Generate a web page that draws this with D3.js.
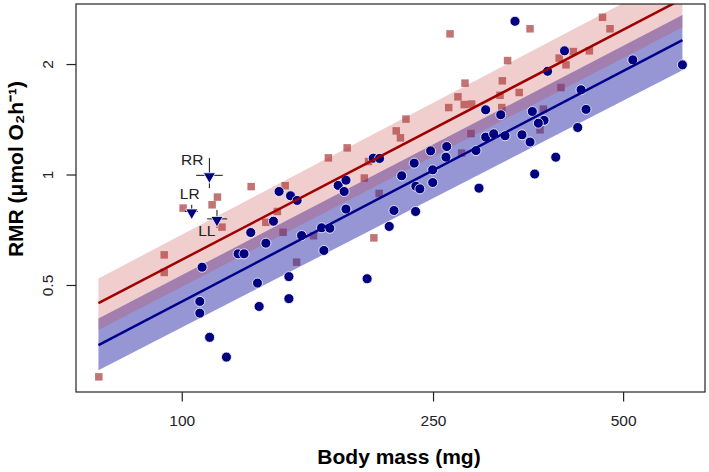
<!DOCTYPE html>
<html>
<head>
<meta charset="utf-8">
<script src="https://cdn.jsdelivr.net/npm/d3@7"></script>
<style>
body { margin: 0; background: #fff; }
svg { display: block; font-family: "Liberation Sans", Arial, Helvetica, sans-serif; }
</style>
</head>
<body>
<div id="chart"></div>
<script>
// blue group (circles)
const circleMass = [117.7, 110.7, 106.8, 106.8, 107.7, 122.8, 125.5, 128.6, 131.8, 135.9,
  132.6, 147.8, 147.8, 167.9, 196.6, 139.7, 142.6, 148.7, 152.3, 154.8,
  166.5, 171.6, 182.0, 176.9, 182.0, 180.8, 201.0, 205.7, 213.1, 216.8,
  223.0, 234.6, 233.4, 234.8, 238.3, 247.8, 249.7, 249.7, 262.8, 262.1,
  292.4, 295.6, 302.9, 320.0, 302.9, 311.9, 325.1, 345.8, 356.1, 359.1,
  374.8, 367.1, 362.2, 337.1, 379.6, 403.8, 391.1, 423.7, 428.9, 436.8,
  518.0, 620.7]
const circleRMR = [0.318, 0.360, 0.419, 0.451, 0.559, 0.608, 0.608, 0.695, 0.506, 0.650,
  0.437, 0.527, 0.459, 0.621, 0.520, 0.746, 0.899, 0.875, 0.850, 0.682,
  0.716, 0.714, 0.805, 0.934, 0.965, 0.899, 1.108, 1.106, 0.722, 0.798,
  0.992, 0.793, 1.074, 0.929, 0.914, 1.160, 1.030, 0.951, 1.192, 1.115,
  1.162, 0.918, 1.501, 1.455, 1.264, 1.291, 1.275, 1.283, 1.226, 1.485,
  1.405, 1.380, 1.003, 2.615, 1.911, 2.173, 1.115, 1.343, 1.702, 1.505,
  2.053, 1.990]

// red group (squares)
const squareMass = [73.9, 93.8, 93.8, 100.5, 111.7, 113.9, 115.8, 128.8, 145.8, 141.7,
  135.9, 144.7, 161.7, 152.0, 201.5, 170.7, 182.8, 197.6, 194.6, 205.4,
  218.6, 222.0, 226.5, 266.0, 280.9, 273.8, 264.7, 280.1, 287.8, 287.1,
  277.5, 356.1, 328.1, 321.9, 319.2, 342.3, 321.2, 373.8, 369.3, 396.0,
  406.0, 417.0, 442.1, 398.6, 463.8, 476.7]
const squareRMR = [0.281, 0.604, 0.541, 0.810, 0.827, 0.868, 0.719, 0.927, 0.932, 0.793,
  0.741, 0.696, 0.681, 0.577, 0.672, 1.110, 1.182, 1.085, 0.978, 0.888,
  1.315, 1.259, 1.416, 2.417, 1.774, 1.628, 1.522, 1.551, 1.556, 1.293,
  1.144, 2.495, 2.044, 1.800, 1.644, 1.673, 1.522, 1.507, 1.324, 2.076,
  1.990, 2.163, 2.173, 1.726, 2.682, 2.495]

// labelled individuals with error bars
const specialNames = ['RR', 'LR', 'LL']
const specialMass = [110.6, 103.7, 113.7]
const specialRMR = [0.995, 0.793, 0.757]
const specialMassLo = [105.4, 101.2, 109.7]
const specialMassHi = [116.1, 106.0, 118.0]
const specialRMRLo = [0.918, 0.761, 0.716]
const specialRMRHi = [1.110, 0.827, 0.801]

// fitted lines and bands at the two ends of the mass range
const fitMass = [73.8, 620.7]
const redFit = [0.446, 3.01]
const redLo = [0.377, 2.52]
const redHi = [0.521, 3.562]
const blueFit = [0.343, 2.324]
const blueLo = [0.293, 1.925]
const blueHi = [0.4055, 2.72]

const xTicks = [100, 250, 500]
const yTicks = [0.5, 1, 2]

const w = 709
const h = 472
const margin = { top: 4, right: 4, bottom: 80, left: 76 }
const innerWidth = w - margin.left - margin.right
const innerHeight = h - margin.top - margin.bottom

const svg = d3.select('#chart')
  .append('svg')
  .attr('width', w)
  .attr('height', h)

const xScale = d3.scaleLog()
  .domain([68, 674])
  .range([margin.left, margin.left + innerWidth])

const yScale = d3.scaleLog()
  .domain([0.2555, 2.915])
  .range([margin.top + innerHeight, margin.top])

svg.append('clipPath')
  .attr('id', 'plotclip')
  .append('rect')
  .attr('x', margin.left)
  .attr('y', margin.top)
  .attr('width', innerWidth)
  .attr('height', innerHeight)

const plot = svg.append('g').attr('clip-path', 'url(#plotclip)')

const squareSize = 7.5
plot.selectAll('rect.sq')
  .data(squareMass)
  .enter()
  .append('rect')
  .attr('class', 'sq')
  .attr('x', (d, i) => xScale(d) - squareSize / 2)
  .attr('y', (d, i) => yScale(squareRMR[i]) - squareSize / 2)
  .attr('width', squareSize)
  .attr('height', squareSize)
  .attr('fill', '#c27474')

const band = (lo, hi) => d3.area()
  .x((d, i) => xScale(fitMass[i]))
  .y0((d, i) => yScale(lo[i]))
  .y1((d, i) => yScale(hi[i]))

plot.append('path')
  .attr('d', band(blueLo, blueHi)(fitMass))
  .attr('fill', 'rgb(45,45,170)')
  .attr('fill-opacity', 0.5)

plot.append('path')
  .attr('d', band(redLo, redHi)(fitMass))
  .attr('fill', 'rgb(200,60,60)')
  .attr('fill-opacity', 0.25)

plot.selectAll('circle.pt')
  .data(circleMass)
  .enter()
  .append('circle')
  .attr('class', 'pt')
  .attr('cx', d => xScale(d))
  .attr('cy', (d, i) => yScale(circleRMR[i]))
  .attr('r', 5)
  .attr('fill', '#000080')
  .attr('stroke', '#fff')
  .attr('stroke-width', 0.8)

const fitLine = vals => d3.line()
  .x((d, i) => xScale(fitMass[i]))
  .y((d, i) => yScale(vals[i]))

plot.append('path')
  .attr('d', fitLine(redFit)(fitMass))
  .attr('stroke', '#a00000')
  .attr('stroke-width', 2.5)
  .attr('fill', 'none')

plot.append('path')
  .attr('d', fitLine(blueFit)(fitMass))
  .attr('stroke', '#00008b')
  .attr('stroke-width', 2.5)
  .attr('fill', 'none')

// error bars and triangles for the labelled individuals
const special = svg.selectAll('g.special')
  .data(specialNames)
  .enter()
  .append('g')
  .attr('class', 'special')

special.append('line')
  .attr('x1', (d, i) => xScale(specialMass[i]))
  .attr('x2', (d, i) => xScale(specialMass[i]))
  .attr('y1', (d, i) => yScale(specialRMRLo[i]))
  .attr('y2', (d, i) => yScale(specialRMRHi[i]))
  .attr('stroke', '#111')
  .attr('stroke-width', 1)

special.append('line')
  .attr('x1', (d, i) => xScale(specialMassLo[i]))
  .attr('x2', (d, i) => xScale(specialMassHi[i]))
  .attr('y1', (d, i) => yScale(specialRMR[i]))
  .attr('y2', (d, i) => yScale(specialRMR[i]))
  .attr('stroke', '#111')
  .attr('stroke-width', 1)

special.append('path')
  .attr('d', d3.symbol(d3.symbolTriangle, 64))
  .attr('transform', (d, i) => 'translate(' + xScale(specialMass[i]) + ',' + (yScale(specialRMR[i]) + 1) + ') rotate(180)')
  .attr('fill', '#000080')
  .attr('stroke', '#fff')
  .attr('stroke-width', 0.8)

const labelOffset = { RR: [-6, -10, 'end'], LR: [-2, -12.5, 'middle'], LL: [-1.5, 17.5, 'end'] }
special.append('text')
  .attr('x', (d, i) => xScale(specialMass[i]) + labelOffset[d][0])
  .attr('y', (d, i) => yScale(specialRMR[i]) + labelOffset[d][1])
  .attr('text-anchor', d => labelOffset[d][2])
  .attr('font-size', 15.5)
  .attr('fill', '#222')
  .text(d => d)

// box
svg.append('rect')
  .attr('x', margin.left)
  .attr('y', margin.top)
  .attr('width', innerWidth)
  .attr('height', innerHeight)
  .attr('fill', 'none')
  .attr('stroke', '#222')
  .attr('stroke-width', 1.2)

const xAxis = d3.axisBottom(xScale)
  .tickValues(xTicks)
  .tickFormat(d3.format('d'))
  .tickSize(9.5)

const yAxis = d3.axisLeft(yScale)
  .tickValues(yTicks)
  .tickFormat(d => d)
  .tickSize(9.5)

const gx = svg.append('g')
  .attr('transform', 'translate(0,' + (margin.top + innerHeight) + ')')
  .call(xAxis)
gx.select('.domain').remove()
gx.selectAll('line').attr('stroke', '#222').attr('stroke-width', 1.2)
gx.selectAll('text')
  .attr('y', 34)
  .attr('dy', 0)
  .attr('font-size', 15.5)
  .attr('fill', '#222')
  .attr('font-family', '"Liberation Sans", Arial, sans-serif')

const gy = svg.append('g')
  .attr('transform', 'translate(' + margin.left + ',0)')
  .call(yAxis)
gy.select('.domain').remove()
gy.selectAll('line').attr('stroke', '#222').attr('stroke-width', 1.2)
gy.selectAll('text')
  .attr('x', 0)
  .attr('dy', 0)
  .attr('transform', 'translate(-23,0) rotate(-90)')
  .attr('text-anchor', 'middle')
  .attr('font-size', 15.5)
  .attr('fill', '#222')
  .attr('font-family', '"Liberation Sans", Arial, sans-serif')

svg.append('text')
  .attr('x', 399)
  .attr('y', 464)
  .attr('text-anchor', 'middle')
  .attr('font-size', 21)
  .attr('font-weight', 'bold')
  .text('Body mass (mg)')

svg.append('text')
  .attr('transform', 'translate(23,169) rotate(-90)')
  .attr('text-anchor', 'middle')
  .attr('font-size', 21)
  .attr('font-weight', 'bold')
  .text('RMR (μmol O₂h⁻¹)')
</script>
</body>
</html>
